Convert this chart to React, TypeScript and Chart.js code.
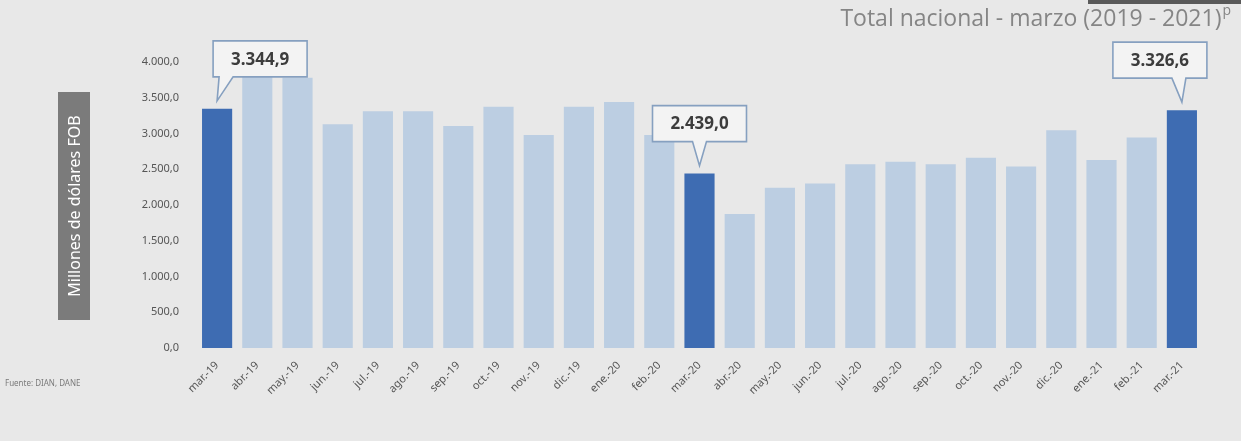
import React, { useEffect, useRef } from "react";
import { Chart, registerables } from "chart.js";

Chart.register(...registerables);

// ---- data ----
const categories = [
  "mar.-19", "abr.-19", "may.-19", "jun.-19", "jul.-19", "ago.-19", "sep.-19",
  "oct.-19", "nov.-19", "dic.-19", "ene.-20", "feb.-20", "mar.-20", "abr.-20",
  "may.-20", "jun.-20", "jul.-20", "ago.-20", "sep.-20", "oct.-20", "nov.-20",
  "dic.-20", "ene.-21", "feb.-21", "mar.-21",
];
const exportValues = [
  3344.9, 3870, 3780, 3130, 3310, 3310, 3105, 3375, 2980, 3375, 3440, 2980,
  2439.0, 1875, 2240, 2300, 2570, 2605, 2570, 2660, 2540, 3045, 2630, 2945,
  3326.6,
];
const highlightIdx = [0, 12, 24];
const calloutAnchor = ["left", "center", "right"];
const yMin = 0;
const yMax = 4000;
const yStep = 500;
const titleText = "Total nacional - marzo (2019 - 2021)";
const titleSup = "p";
const yAxisTitle = "Millones de dólares FOB";
const sourceText = "Fuente: DIAN, DANE";

const BG = "#e8e8e8";
const LIGHT = "#bccee2";
const DARK = "#3e6cb2";

function fmt(v: number): string {
  const [i, d] = v.toFixed(1).split(".");
  return i.replace(/\B(?=(\d{3})+(?!\d))/g, ".") + "," + d;
}

const decoPlugin = {
  id: "deco",
  beforeDraw(chart: any) {
    const ctx = chart.ctx;
    ctx.save();
    ctx.fillStyle = BG;
    ctx.fillRect(0, 0, chart.width, chart.height);
    ctx.restore();
  },
  afterDraw(chart: any) {
    const ctx = chart.ctx as CanvasRenderingContext2D;
    // header remnant band
    ctx.save();
    ctx.fillStyle = "#5a5a5a";
    ctx.fillRect(1088, 0, 153, 4);
    ctx.restore();

    // title (top right)
    ctx.save();
    ctx.fillStyle = "#858585";
    ctx.textBaseline = "alphabetic";
    ctx.textAlign = "left";
    ctx.font = "14px 'Open Sans', sans-serif";
    const supW = ctx.measureText(titleSup).width;
    ctx.font = "23px 'Open Sans', sans-serif";
    const tW = ctx.measureText(titleText).width;
    const right = 1230;
    const tx = right - supW - tW;
    ctx.fillText(titleText, tx, 26);
    ctx.font = "14px 'Open Sans', sans-serif";
    ctx.fillText(titleSup, tx + tW + 1, 15);
    ctx.restore();

    // y-axis title box
    ctx.save();
    ctx.fillStyle = "#7b7b7b";
    ctx.fillRect(58, 92, 32, 228);
    ctx.translate(74.5, 206);
    ctx.rotate(-Math.PI / 2);
    ctx.fillStyle = "#ffffff";
    ctx.font = "16px 'Noto Sans', sans-serif";
    ctx.textAlign = "center";
    ctx.textBaseline = "middle";
    ctx.fillText(yAxisTitle, 0, 1);
    ctx.restore();

    // source
    ctx.save();
    ctx.fillStyle = "#7a7a7a";
    ctx.font = "8px 'Noto Sans', sans-serif";
    ctx.textBaseline = "middle";
    ctx.fillText(sourceText, 5, 384);
    ctx.restore();

    // callouts
    const meta = chart.getDatasetMeta(0);
    highlightIdx.forEach((idx, k) => {
      const bar = meta.data[idx];
      if (!bar) return;
      const bx = bar.x;
      const by = bar.y;
      const w = 94;
      const h = 36;
      const tipY = by - 8;
      const bottom = tipY - 24;
      const top = bottom - h;
      let left: number;
      let b1: number;
      let b2: number;
      const anchor = calloutAnchor[k];
      if (anchor === "left") {
        left = bx - 4;
        b1 = left + 6;
        b2 = left + 20;
      } else if (anchor === "right") {
        left = bx + 25 - w;
        b1 = bx - 10;
        b2 = bx + 4;
      } else {
        left = bx - w / 2;
        b1 = bx - 7;
        b2 = bx + 7;
      }
      ctx.save();
      ctx.beginPath();
      ctx.moveTo(left, top);
      ctx.lineTo(left + w, top);
      ctx.lineTo(left + w, bottom);
      ctx.lineTo(b2, bottom);
      ctx.lineTo(bx, tipY);
      ctx.lineTo(b1, bottom);
      ctx.lineTo(left, bottom);
      ctx.closePath();
      ctx.fillStyle = "#f3f3f3";
      ctx.fill();
      ctx.strokeStyle = "#86a0c0";
      ctx.lineWidth = 1.6;
      ctx.stroke();
      ctx.fillStyle = "#3c3c3c";
      ctx.font = "bold 17px 'Noto Sans', sans-serif";
      ctx.textAlign = "center";
      ctx.textBaseline = "middle";
      ctx.fillText(fmt(exportValues[idx]), left + w / 2, top + h / 2 + 1);
      ctx.restore();
    });
  },
};

export default function App() {
  const ref = useRef<HTMLCanvasElement | null>(null);

  useEffect(() => {
    if (!ref.current) return;
    Chart.defaults.font.family = "'Noto Sans', sans-serif";
    const chart = new Chart(ref.current, {
      type: "bar",
      data: {
        labels: categories,
        datasets: [
          {
            data: exportValues,
            backgroundColor: exportValues.map((_, i) =>
              highlightIdx.includes(i) ? DARK : LIGHT
            ),
            borderWidth: 0,
            barPercentage: 0.75,
            categoryPercentage: 1,
          },
        ],
      },
      options: {
        responsive: false,
        animation: false,
        layout: { padding: { left: 0, right: 39, top: 62, bottom: 38 } },
        plugins: {
          legend: { display: false },
          tooltip: { enabled: false },
          title: { display: false },
        },
        scales: {
          x: {
            grid: { display: false },
            border: { display: false },
            ticks: {
              color: "#555555",
              font: { size: 11 },
              autoSkip: false,
              minRotation: 45,
              maxRotation: 45,
              padding: 3,
            },
            afterFit(scale: any) {
              scale.height = 55;
            },
          },
          y: {
            min: yMin,
            max: yMax,
            grid: { display: false, drawTicks: false },
            border: { display: false },
            ticks: {
              stepSize: yStep,
              color: "#555555",
              font: { size: 11 },
              padding: 18,
              callback: (v: any) => fmt(Number(v)),
            },
            afterFit(scale: any) {
              scale.width = 197;
            },
          },
        },
      },
      plugins: [decoPlugin],
    });
    return () => chart.destroy();
  }, []);

  return (
    <div
      style={{
        position: "fixed",
        left: 0,
        top: 0,
        width: 1241,
        height: 441,
        background: BG,
      }}
    >
      <canvas ref={ref} width={1241} height={441} />
    </div>
  );
}
